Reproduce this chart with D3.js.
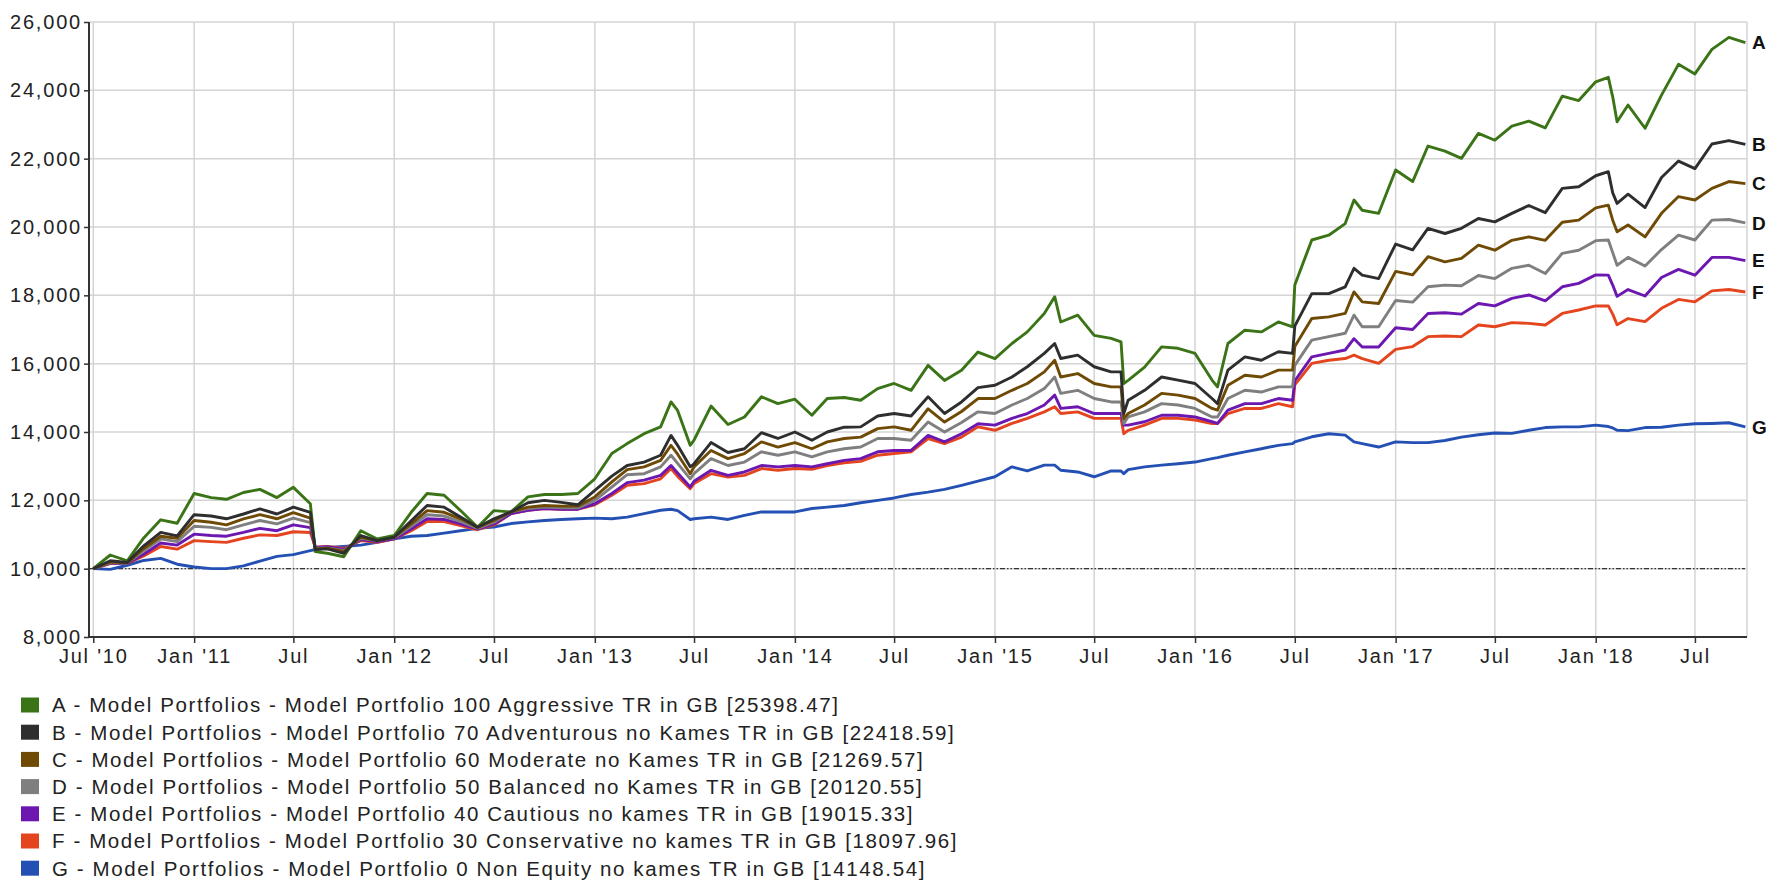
<!DOCTYPE html>
<html>
<head>
<meta charset="utf-8">
<script src="https://cdn.jsdelivr.net/npm/d3@7"></script>
<style>
  body { margin: 0; background: #fff; }
  svg { display: block; font-family: "Liberation Sans", Arial, sans-serif; }
  .grid line { stroke: #d4d4d4; stroke-width: 1.5; }
  .axis path, .axis line { stroke: #333; }
  .axis path { stroke-width: 2; }
  .axis line { stroke-width: 1.5; }
  .axis text { fill: #222; font-size: 20px; letter-spacing: 1.8px; }
  .legend-label { fill: #222; font-size: 20.5px; letter-spacing: 1.6px; }
  .end-label { fill: #111; font-size: 19px; font-weight: bold; }
  .series { fill: none; stroke-width: 2.9; stroke-linejoin: round; }
</style>
</head>
<body>
<svg id="chart" width="1771" height="880"></svg>
<script>
/* Model portfolio growth of 10,000 (total return, GBP), Jul 2010 - Oct 2018.
   Values, roughly monthly plus a few turning points.
*/

// Observation dates, shared by every series
var dates = [
  // Jul 2010 - Jul 2012
  "2010-07-01","2010-08-01","2010-09-01","2010-10-01","2010-11-01","2010-12-01",
  "2011-01-01","2011-02-01","2011-03-01","2011-04-01","2011-05-01","2011-06-01",
  "2011-07-01","2011-08-01","2011-08-10","2011-09-01","2011-10-01","2011-11-01","2011-12-01",
  "2012-01-01","2012-02-01","2012-03-01","2012-04-01","2012-05-01","2012-06-01","2012-07-01",
  // Aug 2012 - Dec 2014
  "2012-08-01","2012-09-01","2012-10-01","2012-11-01","2012-12-01",
  "2013-01-01","2013-02-01","2013-03-01","2013-04-01","2013-05-01","2013-05-20","2013-06-01",
  "2013-06-24","2013-07-01","2013-08-01","2013-09-01","2013-10-01","2013-11-01","2013-12-01",
  "2014-01-01","2014-02-01","2014-03-01","2014-04-01","2014-05-01","2014-06-01",
  "2014-07-01","2014-08-01","2014-09-01","2014-10-01","2014-11-01","2014-12-01",
  // Jan 2015 - Dec 2016
  "2015-01-01","2015-02-01","2015-03-01","2015-04-01","2015-04-20","2015-05-01","2015-06-01",
  "2015-07-01","2015-08-01","2015-08-19","2015-08-24","2015-09-01","2015-10-01","2015-11-01","2015-12-01",
  "2016-01-01","2016-02-01","2016-02-11","2016-03-01","2016-04-01","2016-05-01","2016-06-01",
  "2016-06-27","2016-07-01","2016-08-01","2016-09-01","2016-10-01","2016-10-17","2016-11-01","2016-12-01",
  // Jan 2017 - Oct 2018
  "2017-01-01","2017-02-01","2017-03-01","2017-04-01","2017-05-01","2017-06-01",
  "2017-07-01","2017-08-01","2017-09-01","2017-10-01","2017-11-01","2017-12-01",
  "2018-01-01","2018-01-24","2018-02-01","2018-02-09","2018-03-01","2018-04-01",
  "2018-05-01","2018-06-01","2018-07-01","2018-08-01","2018-09-01","2018-10-01"
];

// A - Model Portfolio 100 Aggressive
var seriesA = [
  10000,10400,10230,10900,11430,11330,12200,12080,12030,12230,12320,12080,12380,11900,10500,10450,10350,11110,10870,10970,11650,12200,12150,11700,11210,11700,
  11660,12100,12170,12170,12200,12630,13370,13660,13950,14150,14880,14630,13610,13760,14760,14220,14440,15030,14830,14960,14490,14980,15010,14930,15270,15420,15220,15950,15510,15810,16340,
  16150,16590,16930,17470,17960,17220,17420,16830,16740,16640,15420,15510,15900,16490,16450,16300,15520,15320,16590,16980,16930,17220,17080,18300,19620,19760,20100,20790,20490,20400,
  21670,21330,22370,22220,22010,22740,22540,22950,23100,22900,23830,23700,24250,24380,23810,23080,23570,22890,23860,24760,24480,25200,25550,25398
];
// B - Model Portfolio 70 Adventurous
var seriesB = [
  10000,10230,10180,10670,11060,10960,11580,11540,11460,11600,11750,11600,11800,11650,10560,10580,10450,10970,10820,10920,11400,11850,11800,11510,11210,11460,
  11660,11930,12000,11940,11870,12290,12710,13020,13120,13320,13900,13610,12980,13070,13690,13400,13510,13980,13810,14000,13760,14000,14140,14150,14470,14540,14470,15030,14540,14880,15300,
  15370,15610,15910,16300,16590,16150,16250,15910,15760,15760,14540,14930,15220,15610,15520,15420,14980,14830,15810,16200,16100,16350,16300,17100,18050,18050,18250,18790,18590,18490,
  19500,19330,19960,19810,19960,20250,20150,20400,20630,20420,21130,21180,21500,21620,21000,20690,20960,20570,21450,21930,21710,22430,22530,22419
];
// C - Model Portfolio 60 Moderate
var seriesC = [
  10000,10200,10170,10590,10950,10890,11410,11360,11280,11460,11580,11460,11640,11480,10580,10600,10500,10920,10820,10920,11310,11700,11650,11460,11210,11410,
  11660,11800,11850,11830,11830,12100,12540,12900,12980,13170,13610,13350,12780,12980,13460,13220,13370,13710,13560,13690,13510,13710,13810,13850,14100,14150,14050,14680,14290,14600,14980,
  14980,15220,15420,15760,16100,15610,15710,15420,15320,15320,14390,14540,14790,15130,15080,14980,14690,14640,15370,15660,15610,15810,15810,16500,17320,17370,17470,18100,17810,17760,
  18700,18600,19130,18980,19080,19470,19320,19610,19710,19610,20140,20200,20560,20640,20200,19860,20060,19710,20400,20890,20790,21130,21330,21270
];
// D - Model Portfolio 50 Balanced
var seriesD = [
  10000,10180,10160,10520,10870,10790,11240,11210,11140,11280,11410,11310,11480,11350,10600,10610,10530,10890,10820,10900,11240,11580,11540,11380,11180,11360,
  11660,11760,11800,11780,11780,12000,12390,12750,12780,12980,13320,13080,12630,12780,13220,13020,13120,13420,13320,13420,13270,13420,13510,13560,13810,13810,13760,14290,14000,14280,14590,
  14540,14790,14980,15270,15610,15130,15220,14980,14880,14880,14250,14440,14590,14830,14790,14690,14440,14440,14980,15220,15170,15320,15320,15950,16690,16790,16890,17420,17080,17080,
  17850,17800,18250,18300,18280,18580,18490,18790,18880,18640,19230,19320,19600,19620,19250,18880,19110,18860,19340,19760,19620,20200,20220,20121
];
// E - Model Portfolio 40 Cautious
var seriesE = [
  10000,10160,10150,10420,10750,10690,11010,10970,10950,11060,11180,11110,11280,11200,10620,10640,10560,10850,10790,10870,11160,11460,11440,11310,11160,11310,
  11610,11710,11760,11740,11740,11900,12200,12520,12590,12730,13020,12800,12390,12560,12880,12730,12830,13020,12980,13020,12980,13070,13170,13220,13420,13460,13460,13900,13710,13950,14240,
  14200,14400,14540,14790,15080,14690,14740,14540,14540,14540,14200,14200,14300,14490,14490,14440,14300,14250,14640,14830,14830,14980,14930,15500,16200,16300,16400,16730,16490,16490,
  17050,17000,17470,17490,17450,17760,17690,17910,18010,17840,18250,18350,18600,18590,18300,17970,18170,17980,18520,18760,18590,19110,19110,19015
];
// F - Model Portfolio 30 Conservative
var seriesF = [
  10000,10150,10150,10370,10650,10570,10820,10790,10770,10890,10990,10970,11080,11060,10630,10650,10590,10820,10770,10870,11110,11380,11380,11260,11140,11280,
  11610,11710,11760,11740,11740,11870,12150,12440,12490,12630,12930,12700,12340,12490,12780,12680,12730,12930,12880,12930,12910,13020,13100,13140,13320,13370,13420,13810,13660,13850,14150,
  14050,14250,14400,14590,14740,14540,14590,14400,14400,14400,13950,14050,14200,14400,14400,14350,14250,14250,14540,14690,14690,14830,14740,15380,16010,16100,16150,16250,16150,16010,
  16420,16500,16790,16810,16790,17130,17080,17200,17180,17130,17470,17570,17690,17690,17450,17140,17320,17230,17620,17880,17810,18130,18170,18098
];
// G - Model Portfolio 0 Non Equity
var seriesG = [
  10000,9980,10100,10240,10300,10130,10050,10000,10000,10080,10220,10360,10410,10530,10560,10620,10650,10690,10770,10870,10950,10970,11040,11110,11180,11220,
  11320,11370,11410,11440,11460,11480,11460,11510,11610,11710,11740,11700,11440,11460,11510,11440,11560,11660,11660,11660,11760,11800,11850,11930,12000,12070,12170,12240,12320,12440,12560,
  12690,12980,12860,13030,13030,12880,12830,12690,12860,12860,12780,12900,12980,13030,13070,13120,13220,13250,13320,13420,13510,13610,13660,13710,13860,13950,13910,13710,13660,13560,
  13710,13690,13690,13750,13850,13920,13970,13960,14050,14130,14150,14150,14200,14160,14120,14050,14040,14130,14140,14200,14240,14250,14270,14149
];

// Series keys, legend texts and colours
var keys = ["A", "B", "C", "D", "E", "F", "G"];
var legendLabels = [
  "A - Model Portfolios - Model Portfolio 100 Aggressive TR in GB [25398.47]",
  "B - Model Portfolios - Model Portfolio 70 Adventurous no Kames TR in GB [22418.59]",
  "C - Model Portfolios - Model Portfolio 60 Moderate no Kames TR in GB [21269.57]",
  "D - Model Portfolios - Model Portfolio 50 Balanced no Kames TR in GB [20120.55]",
  "E - Model Portfolios - Model Portfolio 40 Cautious no kames TR in GB [19015.33]",
  "F - Model Portfolios - Model Portfolio 30 Conservative no kames TR in GB [18097.96]",
  "G - Model Portfolios - Model Portfolio 0 Non Equity no kames TR in GB [14148.54]"
];
var colors = ["#3a7417", "#2e2e2e", "#6e4a05", "#7f7f7f", "#6c17b0", "#e4451e", "#2450b4"];

// Axis ticks
var yTicks = [8000, 10000, 12000, 14000, 16000, 18000, 20000, 22000, 24000, 26000];
var xTickDates = ["2010-07-01","2011-01-01","2011-07-01","2012-01-01","2012-07-01","2013-01-01",
  "2013-07-01","2014-01-01","2014-07-01","2015-01-01","2015-07-01","2016-01-01","2016-07-01",
  "2017-01-01","2017-07-01","2018-01-01","2018-07-01"];
var xTickLabels = ["Jul '10","Jan '11","Jul","Jan '12","Jul","Jan '13","Jul","Jan '14","Jul",
  "Jan '15","Jul","Jan '16","Jul","Jan '17","Jul","Jan '18","Jul"];

var parse = d3.timeParse("%Y-%m-%d");
var allSeries = [seriesA, seriesB, seriesC, seriesD, seriesE, seriesF, seriesG];
var series = keys.map(function(k, i) {
  return {
    key: k,
    color: colors[i],
    label: legendLabels[i],
    values: dates.map(function(d, j) { return { date: parse(d), value: allSeries[i][j] }; })
  };
});

// Plot area
var plot = { left: 90, right: 1747, top: 22, bottom: 637 };
var svg = d3.select("#chart");

var x = d3.scaleTime()
  .domain([parse("2010-06-25"), parse("2018-10-04")])
  .range([plot.left, plot.right]);
var y = d3.scaleLinear()
  .domain([8000, 26000])
  .range([plot.bottom, plot.top]);

var tickDates = xTickDates.map(parse);

// Gridlines
var grid = svg.append("g").attr("class", "grid");
grid.selectAll(".h").data(yTicks).enter().append("line")
  .attr("x1", plot.left).attr("x2", plot.right)
  .attr("y1", function(d) { return y(d); }).attr("y2", function(d) { return y(d); });
grid.selectAll(".v").data(tickDates).enter().append("line")
  .attr("x1", function(d) { return x(d); }).attr("x2", function(d) { return x(d); })
  .attr("y1", plot.top).attr("y2", plot.bottom);
grid.append("line")
  .attr("x1", plot.right).attr("x2", plot.right)
  .attr("y1", plot.top).attr("y2", plot.bottom);

// Reference line at the starting value
svg.append("line")
  .attr("x1", plot.left).attr("x2", plot.right - 2)
  .attr("y1", y(10000)).attr("y2", y(10000))
  .attr("stroke", "#333").attr("stroke-width", 1.2)
  .attr("stroke-dasharray", "5,2,1.5,2,1.5,2");

// Lines, drawn so that B ends up on top as in the original
var line = d3.line()
  .x(function(d) { return x(d.date); })
  .y(function(d) { return y(d.value); });
var drawOrder = ["G", "F", "E", "D", "C", "A", "B"];
drawOrder.forEach(function(k) {
  var s = series.find(function(d) { return d.key === k; });
  svg.append("path")
    .datum(s.values)
    .attr("class", "series")
    .attr("stroke", s.color)
    .attr("d", line);
});

// End labels
svg.selectAll(".end-label").data(series).enter().append("text")
  .attr("class", "end-label")
  .attr("x", plot.right + 5)
  .attr("y", function(d) { return y(d.values[d.values.length - 1].value); })
  .attr("dy", "0.36em")
  .text(function(d) { return d.key; });

// Axes
var yAxis = svg.append("g")
  .attr("class", "axis")
  .attr("transform", "translate(" + (plot.left - 1) + ",0)")
  .call(d3.axisLeft(y).tickValues(yTicks).tickFormat(d3.format(",")).tickSize(5).tickSizeOuter(0).tickPadding(2));
var xAxis = svg.append("g")
  .attr("class", "axis")
  .attr("transform", "translate(0," + plot.bottom + ")")
  .call(d3.axisBottom(x).tickValues(tickDates)
    .tickFormat(function(d, i) { return xTickLabels[i]; })
    .tickSize(6).tickSizeOuter(0).tickPadding(6));
svg.selectAll(".axis").attr("font-family", null).attr("font-size", null);
xAxis.select(".domain").attr("d", "M" + (plot.left - 2) + ",0H" + plot.right);
yAxis.select(".domain").attr("d", "M0," + plot.top + "V" + (plot.bottom + 1));

// Legend
var legend = svg.append("g").attr("class", "legend");
var rows = legend.selectAll("g").data(series).enter().append("g")
  .attr("transform", function(d, i) { return "translate(0," + (705 + i * 27.2) + ")"; });
rows.append("rect")
  .attr("x", 21).attr("y", -7.5)
  .attr("width", 18).attr("height", 15)
  .attr("fill", function(d) { return d.color; });
rows.append("text")
  .attr("class", "legend-label")
  .attr("x", 52)
  .attr("dy", "0.36em")
  .text(function(d) { return d.label; });
</script>
</body>
</html>
